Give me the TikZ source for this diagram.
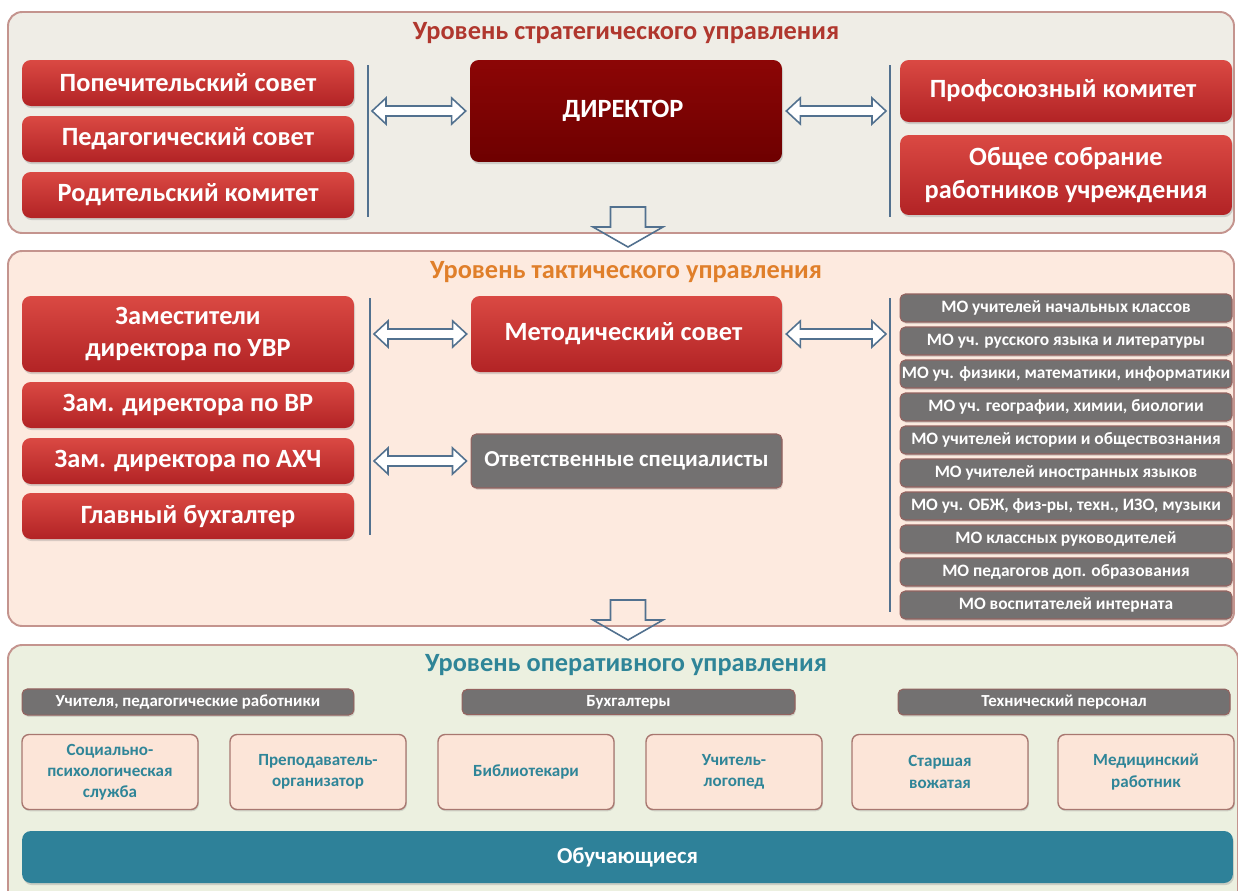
\documentclass[tikz,border=0pt]{standalone}
\usepackage{fontspec}
\setmainfont{Carlito}
\usepackage{xcolor}
\usetikzlibrary{arrows.meta,shadows,calc}

\definecolor{panelline}{HTML}{C4948E}
\definecolor{panelA}{HTML}{EFEDE6}
\definecolor{panelB}{HTML}{FDEADF}
\definecolor{panelC}{HTML}{ECF0E0}
\definecolor{stratred}{HTML}{B0372E}
\definecolor{tactorange}{HTML}{E07F2A}
\definecolor{operteal}{HTML}{2F8598}
\definecolor{redtop}{HTML}{DA4943}
\definecolor{redbot}{HTML}{B22325}
\definecolor{dirtop}{HTML}{8C0606}
\definecolor{dirbot}{HTML}{6E0000}
\definecolor{boxgray}{HTML}{737171}
\definecolor{grayline}{HTML}{946360}
\definecolor{peach}{HTML}{FCE5D8}
\definecolor{peachline}{HTML}{A87770}
\definecolor{studteal}{HTML}{2E8199}
\definecolor{arrowline}{HTML}{52718F}

% hollow two-headed arrow, left point to right point
\newcommand{\hollowarrow}[2]{
    \draw[hollow] ($(#1)+(4,0)$) -- ++(14,-13) -- ++(0,8)
        -- ($(#2)+(-18,-5)$) -- ++(0,-8) -- ($(#2)+(-4,0)$)
        -- ++(-14,13) -- ++(0,-8) -- ($(#1)+(18,5)$) -- ++(0,8) -- cycle;
}

\begin{document}
\begin{tikzpicture}[
    x=0.02cm,
    y=-0.02cm,
    font=\bfseries,
    panel/.style={
        draw=panelline,
        line width=1.1pt,
        rounded corners=8pt
    },
    title/.style={
        font=\fontsize{15}{17}\selectfont\bfseries
    },
    redbox/.style={
        rounded corners=5pt,
        top color=redtop,
        bottom color=redbot,
        text=white,
        align=center,
        font=\fontsize{15}{18.5}\selectfont\bfseries,
        minimum width=6.64cm,
        minimum height=0.92cm,
        drop shadow={shadow xshift=0.6pt, shadow yshift=-1.2pt, opacity=0.3}
    },
    graybox/.style={
        rounded corners=3pt,
        fill=boxgray,
        draw=grayline,
        line width=0.6pt,
        text=white,
        inner xsep=1pt,
        drop shadow={shadow xshift=0.5pt, shadow yshift=-1pt, opacity=0.25}
    },
    mobox/.style={
        graybox,
        font=\fontsize{9.9}{11}\selectfont\bfseries,
        minimum width=6.64cm,
        minimum height=0.56cm
    },
    hdrbox/.style={
        graybox,
        font=\fontsize{9.6}{11}\selectfont\bfseries,
        minimum width=6.64cm,
        minimum height=0.5cm
    },
    peachbox/.style={
        rounded corners=4pt,
        fill=peach,
        draw=peachline,
        line width=0.8pt,
        text=operteal,
        align=center,
        font=\fontsize{9.7}{12}\selectfont\bfseries,
        minimum width=3.52cm,
        minimum height=1.5cm,
        drop shadow={shadow xshift=0.5pt, shadow yshift=-1pt, opacity=0.25}
    },
    sepline/.style={
        arrowline,
        line width=0.8pt
    },
    hollow/.style={
        draw=arrowline,
        fill=white,
        line width=0.9pt,
        line join=miter
    },
    downarrow/.style={
        draw=arrowline,
        line width=0.9pt,
        line join=miter
    }
]

\clip (0,0) rectangle (1238,890);
\fill[white] (0,0) rectangle (1238,890);

% Panel 1: strategic level
\draw[
    panel,
    fill=panelA
] (8,12) rectangle (1234,233);

\node[
    title,
    text=stratred
] (stratTitle) at (626,33) {
    Уровень стратегического управления
};

\node[redbox] (popSovet) at (188,83) {Попечительский совет};
\node[redbox] (pedSovet) at (188,139) {Педагогический совет};
\node[redbox] (rodKomitet) at (188,195) {Родительский комитет};

\node[
    redbox,
    top color=dirtop,
    bottom color=dirbot,
    minimum width=6.24cm,
    minimum height=2.04cm
] (director) at (626,111) {
    ДИРЕКТОР
};

\node[
    redbox,
    minimum height=1.24cm
] (profKomitet) at (1066,91) {
    Профсоюзный комитет
};

\node[
    redbox,
    minimum height=1.6cm
] (obshSobranie) at (1066,175) {
    Общее собрание\\
    работников учреждения
};

\coordinate (sepA1) at (368,65);
\coordinate (sepA2) at (368,217);
\coordinate (sepB1) at (890,65);
\coordinate (sepB2) at (890,217);
\draw[sepline] (sepA1) -- (sepA2);
\draw[sepline] (sepB1) -- (sepB2);

\hollowarrow{sepA1 |- director}{director.west}
\hollowarrow{director.east}{sepB1 |- director}

% Arrow down 1
\coordinate (downA) at (628,227);
\draw[
    downarrow
] (downA) ++(-17.5,0) -- ++(0,-20) -- ++(35,0) -- ++(0,20)
    -- ++(17.5,0) -- ++(-35,20) -- ++(-35,-20) -- cycle;


% Panel 2: tactical level
\draw[
    panel,
    fill=panelB
] (8,251) rectangle (1234,626);

\node[
    title,
    text=tactorange
] (tactTitle) at (626,272) {
    Уровень тактического управления
};

\node[
    redbox,
    minimum height=1.52cm
] (zamUVR) at (188,334) {
    Заместители\\
    директора по УВР
};
\node[redbox] (zamVR) at (188,405) {Зам. директора по ВР};
\node[redbox] (zamAHC) at (188,461) {Зам. директора по АХЧ};
\node[redbox] (glavBuh) at (188,516) {Главный бухгалтер};

\node[
    redbox,
    minimum width=6.22cm,
    minimum height=1.52cm
] (metSovet) at (626.5,334) {
    Методический совет
};

\node[
    graybox,
    font=\fontsize{13}{15}\selectfont\bfseries,
    minimum width=6.22cm,
    minimum height=1.08cm
] (otvSpec) at (626.5,461) {
    Ответственные специалисты
};

\coordinate (sepC1) at (370,298);
\coordinate (sepC2) at (370,535);
\coordinate (sepD1) at (890,298);
\coordinate (sepD2) at (890,612);
\draw[sepline] (sepC1) -- (sepC2);
\draw[sepline] (sepD1) -- (sepD2);

\hollowarrow{sepC1 |- metSovet}{metSovet.west}
\hollowarrow{metSovet.east}{sepD1 |- metSovet}
\hollowarrow{sepC1 |- otvSpec}{otvSpec.west}

% methodical unions
\node[mobox] (mo1) at (1066,308) {МО учителей начальных классов};
\node[mobox] (mo2) at (1066,341) {МО уч. русского языка и литературы};
\node[mobox] (mo3) at (1066,374) {МО уч. физики, математики, информатики};
\node[mobox] (mo4) at (1066,407) {МО уч. географии, химии, биологии};
\node[mobox] (mo5) at (1066,440) {МО учителей истории и обществознания};
\node[mobox] (mo6) at (1066,473) {МО учителей иностранных языков};
\node[mobox] (mo7) at (1066,506) {МО уч. ОБЖ, физ-ры, техн., ИЗО, музыки};
\node[mobox] (mo8) at (1066,539) {МО классных руководителей};
\node[mobox] (mo9) at (1066,572) {МО педагогов доп. образования};
\node[mobox] (mo10) at (1066,605) {МО воспитателей интерната};

% Arrow down 2
\coordinate (downB) at (628,620);
\draw[
    downarrow
] (downB) ++(-17.5,0) -- ++(0,-20) -- ++(35,0) -- ++(0,20)
    -- ++(17.5,0) -- ++(-35,20) -- ++(-35,-20) -- cycle;


% Panel 3: operational level
\draw[
    panel,
    fill=panelC
] (8,645) rectangle (1238,910);

\node[
    title,
    text=operteal
] (operTitle) at (626,665) {
    Уровень оперативного управления
};

\node[hdrbox] (hdrTeachers) at (188,702) {Учителя, педагогические работники};
\node[hdrbox, minimum width=6.66cm] (hdrBuh) at (628.5,702) {Бухгалтеры};
\node[hdrbox] (hdrTech) at (1064,702) {Технический персонал};

\node[peachbox] (socPsy) at (110,772) {Социально-\\психологическая\\служба};
\node[peachbox] (prepOrg) at (318,772) {Преподаватель-\\организатор};
\node[peachbox] (biblio) at (526,772) {Библиотекари};
\node[peachbox] (logoped) at (734,772) {Учитель-\\логопед};
\node[peachbox] (vozhat) at (940,772) {Старшая\\вожатая};
\node[peachbox] (medRab) at (1146,772) {Медицинский\\работник};

\node[
    rounded corners=5pt,
    fill=studteal,
    text=white,
    font=\fontsize{13}{15}\selectfont\bfseries,
    minimum width=24.22cm,
    minimum height=1.04cm,
    drop shadow={shadow xshift=0.6pt, shadow yshift=-1.2pt, opacity=0.3}
] (students) at (627.5,857) {
    Обучающиеся
};

\end{tikzpicture}
\end{document}
